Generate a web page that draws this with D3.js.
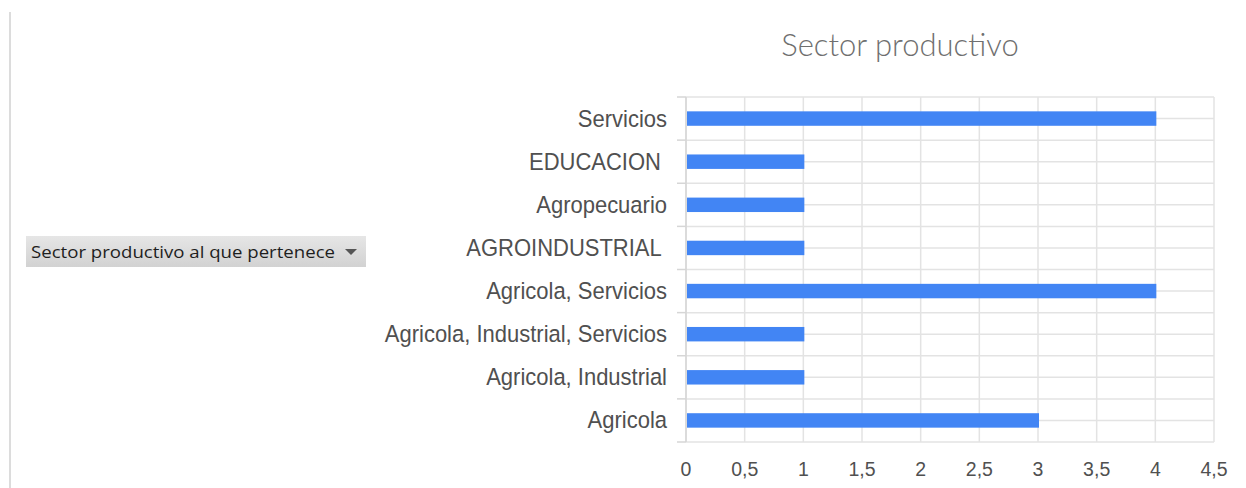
<!DOCTYPE html>
<html>
<head>
<meta charset="utf-8">
<script src="https://cdn.jsdelivr.net/npm/d3@7"></script>
<style>
	body { margin: 0; background: #fff; }
	svg { display: block; }
	.cat text { white-space: pre; }
</style>
</head>
<body>
<svg id="chart" width="1246" height="488"></svg>
<script>
// categories, top to bottom
var categories = ['Servicios', 'EDUCACION ', 'Agropecuario', 'AGROINDUSTRIAL ', 'Agricola, Servicios',
	'Agricola, Industrial, Servicios', 'Agricola, Industrial', 'Agricola'];
var counts = [4, 1, 1, 1, 4, 1, 1, 3];
var ticks = [0, 0.5, 1, 1.5, 2, 2.5, 3, 3.5, 4, 4.5];

var svg = d3.select('#chart');
var pLeft = 686, pRight = 1214, pTop = 97, pBottom = 442;

var x = d3.scaleLinear().domain([0, 4.5]).range([pLeft, pRight]);
var y = d3.scaleBand().domain(categories).range([pTop, pBottom]).paddingInner(0.665).paddingOuter(0.3325);
var yb = d3.scaleBand().domain(categories).range([pTop, pBottom]);

// page border on the left
svg.append('line').attr('x1', 10).attr('x2', 10).attr('y1', 12).attr('y2', 488)
	.attr('stroke', '#dcdcdc').attr('stroke-width', 2);

// title
svg.append('text').attr('x', 900).attr('y', 56).attr('text-anchor', 'middle')
	.attr('font-family', 'Lato, "Open Sans", sans-serif').attr('font-weight', 300)
	.attr('font-size', 31).attr('fill', '#6f6f6f').text('Sector productivo');

// filter button
var grad = svg.append('defs').append('linearGradient').attr('id', 'btngrad')
	.attr('x1', 0).attr('x2', 0).attr('y1', 0).attr('y2', 1);
grad.append('stop').attr('offset', '0%').attr('stop-color', '#e6e6e6');
grad.append('stop').attr('offset', '100%').attr('stop-color', '#d2d2d2');
var btn = svg.append('g').attr('transform', 'translate(26,236)');
btn.append('rect').attr('width', 340).attr('height', 31).attr('fill', 'url(#btngrad)');
btn.append('text').attr('x', 5).attr('y', 22)
	.attr('font-family', '"Open Sans", "Noto Sans", sans-serif').attr('font-size', 16.5)
	.attr('fill', '#1e1e1e').attr('textLength', 304).attr('lengthAdjust', 'spacingAndGlyphs')
	.text('Sector productivo al que pertenece');
btn.append('path').attr('d', 'M319,13 L331,13 L325,19 Z').attr('fill', '#555');

// grid
var grid = svg.append('g').attr('stroke', '#e3e3e3').attr('stroke-width', 1.5);
grid.selectAll('.vg').data(ticks).enter().append('line')
	.attr('x1', function (d) { return x(d); }).attr('x2', function (d) { return x(d); })
	.attr('y1', pTop).attr('y2', pBottom);
var hl = [];
categories.forEach(function (c) { hl.push(yb(c)); hl.push(yb(c) + yb.bandwidth() / 2); });
hl.push(pBottom);
grid.selectAll('.hg').data(hl).enter().append('line')
	.attr('x1', pLeft).attr('x2', pRight)
	.attr('y1', function (d) { return d; }).attr('y2', function (d) { return d; });

// y axis ticks at band edges
var edges = categories.map(function (c) { return yb(c); }).concat([pBottom]);
svg.append('g').attr('stroke', '#d6d6d6').attr('stroke-width', 1.5)
	.selectAll('line').data(edges).enter().append('line')
	.attr('x1', pLeft - 9).attr('x2', pLeft)
	.attr('y1', function (d) { return d; }).attr('y2', function (d) { return d; });
svg.append('line').attr('x1', pLeft).attr('x2', pLeft).attr('y1', pTop).attr('y2', pBottom)
	.attr('stroke', '#d6d6d6').attr('stroke-width', 1.5);

// bars
svg.append('g').selectAll('rect').data(categories).enter().append('rect')
	.attr('x', x(0) + 1)
	.attr('y', function (d) { return y(d); })
	.attr('height', y.bandwidth())
	.attr('width', function (d, i) { return x(counts[i]) - x(0); })
	.attr('fill', '#4285f4');

// category labels (glyphs a bit taller than wide in the original)
svg.append('g').attr('class', 'cat').selectAll('text').data(categories).enter().append('text')
	.attr('transform', function (d) {
		return 'translate(' + (pLeft - 19) + ',' + (yb(d) + yb.bandwidth() / 2 + 8) + ') scale(1,1.08)';
	})
	.attr('text-anchor', 'end')
	.attr('font-family', '"Liberation Sans", Arial, sans-serif').attr('font-size', 22)
	.attr('fill', '#505050')
	.text(function (d) { return d; });

// value axis labels
svg.append('g').selectAll('text').data(ticks).enter().append('text')
	.attr('transform', function (d) { return 'translate(' + x(d) + ',476) scale(1,1.08)'; })
	.attr('text-anchor', 'middle')
	.attr('font-family', '"Liberation Sans", Arial, sans-serif').attr('font-size', 19.5)
	.attr('fill', '#505050')
	.text(function (d) { return String(d).replace('.', ','); });
</script>
</body>
</html>
